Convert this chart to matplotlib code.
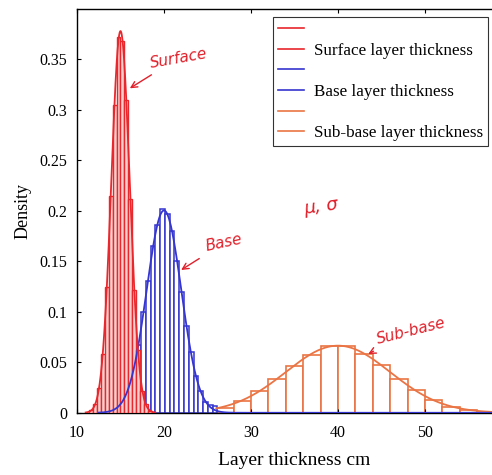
import numpy as np
import matplotlib.pyplot as plt
from matplotlib.lines import Line2D

# histogram bins (left edges + width) and densities
surf_left = [11.4, 11.85, 12.3, 12.75, 13.2, 13.65, 14.1, 14.55, 15.0, 15.45, 15.9, 16.35, 16.8, 17.25, 17.7, 18.15]
surf_w = 0.45
surf_h = [0.003, 0.009, 0.025, 0.058, 0.125, 0.215, 0.305, 0.372, 0.368, 0.31, 0.212, 0.122, 0.062, 0.022, 0.009, 0.002]

base_left = [12.4, 12.95, 13.5, 14.05, 14.6, 15.15, 15.7, 16.25, 16.8, 17.35, 17.9, 18.45, 19.0,
             19.55, 20.1, 20.65, 21.2, 21.75, 22.3, 22.85, 23.4, 23.95, 24.5, 25.05, 25.6]
base_w = 0.55
base_h = [0.005, 0.002, 0.002, 0.004, 0.008, 0.015, 0.027, 0.045, 0.067, 0.1, 0.131, 0.165, 0.186,
          0.202, 0.197, 0.18, 0.15, 0.12, 0.086, 0.06, 0.036, 0.022, 0.011, 0.008, 0.007]

sub_left = [26, 28, 30, 32, 34, 36, 38, 40, 42, 44, 46, 48, 50, 52, 54, 56]
sub_w = 2.0
sub_h = [0.005, 0.012, 0.022, 0.033, 0.046, 0.057, 0.066, 0.066, 0.058, 0.047, 0.0335, 0.0226, 0.0126, 0.006, 0.0023, 0.001]

# fitted normal parameters (mean, std) read from peak position/height
surf_fit = (15.0, 1.055)
base_fit = (20.0, 1.99)
sub_fit = (40.0, 6.0)

labels = ["Surface layer thickness", "Base layer thickness", "Sub-base layer thickness"]

c_surf = "#E8282C"
c_base = "#3535CF"
c_sub = "#EA7444"

plt.rcParams['font.family'] = ['Liberation Serif', 'DejaVu Serif']

def normpdf(x, mu, sd):
    return np.exp(-0.5 * ((x - mu) / sd) ** 2) / (sd * np.sqrt(2 * np.pi))

fig = plt.figure(figsize=(4.92, 4.75), dpi=100)
ax = fig.add_axes([0.1565, 0.131, 0.884, 0.85])

ax.bar(sub_left, sub_h, width=sub_w, align='edge', facecolor='white', edgecolor=c_sub, linewidth=1.2, zorder=1)
ax.bar(base_left, base_h, width=base_w, align='edge', facecolor='white', edgecolor=c_base, linewidth=1.1, zorder=2)
ax.bar(surf_left, surf_h, width=surf_w, align='edge', facecolor='#F7D0D0', edgecolor=c_surf, linewidth=1.0, zorder=3)

xs = np.linspace(26, 60, 300)
ax.plot(xs, normpdf(xs, *sub_fit), color=c_sub, lw=1.3, zorder=4)
xb = np.linspace(12.5, 60, 500)
ax.plot(xb, normpdf(xb, *base_fit), color=c_base, lw=1.3, zorder=5)
xr = np.linspace(11, 19, 300)
ax.plot(xr, normpdf(xr, *surf_fit), color=c_surf, lw=1.3, zorder=6)

ax.set_xlim(10, 60)
ax.set_ylim(0, 0.4)
ax.set_xticks([10, 20, 30, 40, 50])
ax.set_yticks([0, 0.05, 0.1, 0.15, 0.2, 0.25, 0.3, 0.35])
ax.set_yticklabels(['0', '0.05', '0.1', '0.15', '0.2', '0.25', '0.3', '0.35'])
ax.tick_params(direction='in', length=3, labelsize=11.5, top=True, right=True)
ax.tick_params(axis='x', pad=9)
ax.tick_params(axis='y', pad=7)
for s in ax.spines.values():
    s.set_linewidth(1.0)
ax.set_xlabel("Layer thickness cm", fontsize=14, labelpad=8)
ax.set_ylabel("Density", fontsize=13, labelpad=6)

handles = [Line2D([], [], color=c_surf, lw=1.2), Line2D([], [], color=c_surf, lw=1.2),
           Line2D([], [], color=c_base, lw=1.2), Line2D([], [], color=c_base, lw=1.2),
           Line2D([], [], color=c_sub, lw=1.2), Line2D([], [], color=c_sub, lw=1.2)]
leg = ax.legend(handles, ["", labels[0], "", labels[1], "", labels[2]],
                loc='upper left', bbox_to_anchor=(0.451, 0.98), borderaxespad=0,
                fontsize=12.3, frameon=True, fancybox=False, edgecolor='black',
                handlelength=1.5, handletextpad=0.6, labelspacing=0.27, borderpad=0.3)
leg.get_frame().set_linewidth(0.8)

# handwritten notes
hand = dict(color='#E0202A', fontsize=11, style='italic', family='DejaVu Sans')
ax.annotate("Surface", xy=(15.8, 0.32), xytext=(18.2, 0.342), rotation=10,
            arrowprops=dict(arrowstyle='->', color='#E0202A', lw=1), **hand)
ax.annotate("Base", xy=(21.7, 0.14), xytext=(24.6, 0.16), rotation=12,
            arrowprops=dict(arrowstyle='->', color='#E0202A', lw=1), **hand)
ax.annotate("Sub-base", xy=(43.2, 0.057), xytext=(44.3, 0.068), rotation=14,
            arrowprops=dict(arrowstyle='->', color='#E0202A', lw=1), **hand)
ax.text(36.0, 0.197, "\u03bc, \u03c3", rotation=8, **dict(hand, fontsize=13))

fig.savefig("out.png", dpi=100)
